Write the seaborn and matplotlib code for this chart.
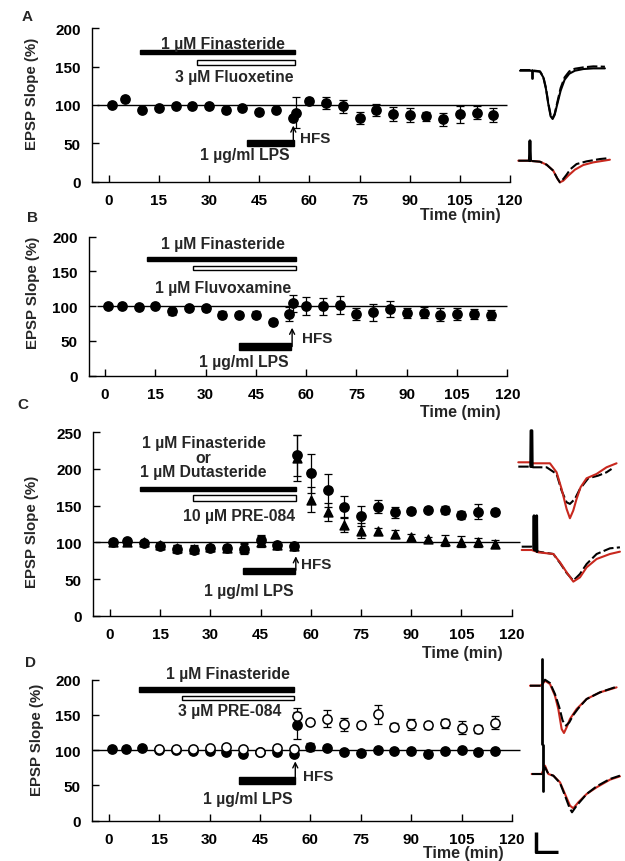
import matplotlib
matplotlib.use("Agg")
import matplotlib.pyplot as plt
import seaborn as sns

W, H = 625, 862

# ---------------- EPSP slope time courses (min, % of baseline) ----------------
times = [1, 5, 10, 15, 20, 25, 30, 35, 40, 45, 50, 55, 56,
         60, 65, 70, 75, 80, 85, 90, 95, 100, 105, 110, 115]

a_slope = [100, 108, 93.5, 96.5, 99, 98, 99, 93, 96.5, 91, 93.5, 83, 90,
           105.5, 102.5, 98, 83, 93.5, 88, 87, 85, 81, 88, 90, 87]
a_err = [2, 2, 3, 2, 2, 2, 2, 3, 2, 3, 2, 3, 20, 3, 8, 9, 8, 8, 9, 9, 6, 8, 11, 9, 9]

b_slope = [100, 101, 99, 101, 92.8, 97, 97, 87.5, 88, 87.5, 77, 89, 104,
           100, 100, 102, 88.5, 91, 96, 90.5, 90.5, 88, 88.5, 88.5, 87.5]
b_err = [2, 2, 2, 2, 5, 3, 4, 5, 3, 5, 4, 10, 12, 13, 12, 13, 9, 12, 12, 7, 8, 10, 9, 7, 7]

c_circle = [100, 101.9, 99.2, 94.7, 91, 90, 92.4, 91.9, 91, 102.6, 96.5, 94.7, 219,
            194, 170.7, 148.5, 136, 148.5, 140.8, 142.2, 144.5, 144, 137.2, 141.7, 140.8]
c_circle_err = [2, 2, 2, 3, 5, 5, 4, 4, 7, 7, 4, 3, 28, 27, 22, 14, 14, 9, 7, 4, 3, 5, 6, 10, 4]
c_tri = [100, 101, 100, 96, 92, 91, 93, 92, 92, 101, 97, 95, 215,
         158, 141.7, 123.6, 116, 115, 111.4, 107, 104.6, 102.4, 101, 100, 97.8]
c_tri_err = [2, 2, 2, 3, 5, 5, 4, 4, 7, 7, 4, 3, 32, 17, 12, 9, 10, 5, 5, 4, 3, 7, 7, 6, 5]

d_filled = [101, 101, 103.3, 100, 100, 99, 99, 97, 94, 98, 97, 95, 135,
            104.7, 103.3, 97, 96, 100, 98.6, 98.6, 94.8, 98.6, 100, 97, 98.6]
d_filled_err = [2, 2, 2, 2, 2, 2, 2, 2, 3, 2, 2, 3, 19, 6, 3, 2, 2, 2, 2, 2, 2, 2, 2, 2, 2]
d_open_times = [15, 20, 25, 30, 35, 40, 45, 50, 55, 56,
                60, 65, 70, 75, 80, 85, 90, 95, 100, 105, 110, 115]
d_open = [101, 101, 102, 103, 104.7, 102, 98, 103, 101, 149,
          139.8, 144.5, 136.5, 135, 150.7, 133, 136.5, 135, 138, 132, 130, 139]
d_open_err = [2, 2, 2, 2, 2, 2, 2, 2, 2, 11, 3, 12, 9, 3, 14, 6, 8, 5, 6, 9, 5, 9]

# ---------------- representative field EPSP traces (ms, mV) ----------------
a_trace_t = [0, 3, 6, 7, 7.8, 8.5, 9.2, 9.8, 10.4, 11.2, 12.2, 13.4, 14.8, 16.5, 19, 22, 25.5]
a_solid_v = [0, 0, -0.03, -0.2, -0.55, -1.0, -1.37, -1.45, -1.33, -1.0, -0.6, -0.27, -0.09, 0, 0.05, 0.07, 0.07]
a_dash_v = [0.02, 0.02, -0.02, -0.18, -0.52, -0.97, -1.33, -1.42, -1.3, -0.95, -0.52, -0.2, -0.02, 0.06, 0.1, 0.13, 0.12]
a_art_t = [3.5, 3.5]
a_art_v = [0.02, -0.23]

b_red_t = [0, 3, 6.5, 8.5, 10.5, 11.7, 12.5, 13.5, 15, 17, 19.5, 22.5, 27.5]
b_red_v = [0, 0, -0.03, -0.12, -0.3, -0.53, -0.65, -0.6, -0.45, -0.27, -0.13, -0.05, 0.03]
b_blk_t = [0, 3, 6.5, 8.5, 10.5, 11.7, 12.5, 13.5, 14.5, 15.7, 17.5, 20.5, 24.5, 26.5]
b_blk_v = [0, 0, -0.03, -0.12, -0.3, -0.53, -0.65, -0.55, -0.42, -0.25, -0.1, -0.02, 0.05, 0.07]
b_art_t = [3.3, 3.5, 3.7]
b_art_v = [0, 0.6, 0]

c1_red_t = [0, 3.5, 4.5, 9.5, 11.5, 13, 14.5, 15.5, 16.5, 17.5, 18.7, 20.5, 23.5, 26.5, 29.5]
c1_red_v = [0, 0, -0.03, -0.03, -0.3, -0.8, -1.4, -1.68, -1.45, -1.1, -0.75, -0.48, -0.35, -0.15, -0.03]
c1_blk_t = [0, 3.5, 4.5, 8.5, 11.5, 13, 14.5, 15.5, 17, 18.5, 21, 24, 26.5, 28]
c1_blk_v = [-0.13, -0.13, -0.15, -0.15, -0.35, -0.85, -1.2, -1.25, -1.1, -0.8, -0.48, -0.4, -0.3, -0.2]
c1_art_t = [3.7, 3.8, 4.1, 4.2]
c1_art_v = [-0.13, 0.95, 0.95, -0.13]

c2_red_t = [0, 3, 5, 9.5, 11.5, 13.5, 15.5, 17.5, 19.5, 22.5, 26.5, 29.5]
c2_red_v = [0, 0, -0.07, -0.12, -0.37, -0.67, -0.95, -0.82, -0.52, -0.27, -0.12, -0.05]
c2_blk_t = [0, 3, 5, 9.5, 11.5, 13.5, 15.5, 17.5, 19.5, 22.5, 26.5, 29.5]
c2_blk_v = [0.1, 0.1, -0.05, -0.12, -0.39, -0.69, -0.92, -0.72, -0.42, -0.12, 0.05, 0.08]
c2_art_t = [3.6, 3.7, 3.8, 4.4, 4.5, 4.6]
c2_art_v = [0.05, 1.03, 0.0, 0.0, 1.03, -0.05]

d1_red_t = [0, 3, 3.8, 4.5, 6, 7.5, 8.5, 9.5, 10.2, 11, 12, 14, 17, 21, 26]
d1_red_v = [0, 0, 0.05, 0.15, 0.05, -0.3, -0.7, -1.3, -1.42, -1.25, -1.0, -0.7, -0.4, -0.2, -0.05]
d1_blk_t = [0, 3, 3.8, 4.5, 6, 7.5, 8.8, 9.8, 10.8, 11.8, 13, 14.5, 17, 21, 26]
d1_blk_v = [0, 0, 0.08, 0.18, 0.08, -0.25, -0.65, -1.05, -1.2, -1.1, -0.88, -0.68, -0.4, -0.2, -0.03]
d1_art_t = [3.5, 3.5]
d1_art_v = [0.8, -1.75]

d2_red_t = [0, 3, 4, 5, 6.5, 8.5, 10, 11.5, 12.5, 14, 16.5, 19.5, 23.5, 26.5]
d2_red_v = [0, 0, 0.25, 0, -0.05, -0.25, -0.6, -0.95, -1.03, -0.85, -0.6, -0.4, -0.17, -0.07]
d2_blk_t = [0, 3, 4, 5, 6.5, 8.5, 10, 11.3, 12.1, 13.5, 16.5, 19.5, 23.5, 26.5]
d2_blk_v = [0, 0, 0.2, 0, -0.05, -0.27, -0.65, -1.0, -1.15, -0.95, -0.6, -0.37, -0.15, -0.05]
d2_art_t = [3.3, 3.3]
d2_art_v = [0.87, -0.5]

RED = "#c8281e"
PX_MS = 3.33   # px per ms in the trace insets
PX_MV = 33.3   # px per mV

sns.set_theme(style="ticks")
plt.rcParams["font.family"] = ["Liberation Sans", "DejaVu Sans"]
plt.rcParams["font.weight"] = "bold"
plt.rcParams["axes.labelweight"] = "bold"

fig = plt.figure(figsize=(W / 100, H / 100), dpi=100)


def px_axes(left, top, right, bottom):
    return fig.add_axes([left / W, 1 - bottom / H, (right - left) / W, (bottom - top) / H])


def fig_text(x, y, s, size, **kw):
    fig.text(x / W, 1 - y / H, s, ha="center", va="center", fontsize=size,
             fontweight="bold", **kw)


def setup_panel(ax, xmin, ymax, letter, letter_xy, ylab_xy, time_xy, line_span):
    ax.set_xlim(xmin, 120)
    ax.set_ylim(0, ymax)
    ax.set_xticks(range(0, 121, 15))
    ax.set_yticks(range(0, ymax + 1, 50))
    ax.tick_params(direction="in", length=5, width=1, labelsize=11, pad=8, colors="black")
    for lab in ax.get_xticklabels() + ax.get_yticklabels():
        lab.set_fontweight("bold")
    sns.despine(ax=ax)
    for s in ("left", "bottom"):
        ax.spines[s].set_linewidth(1)
        ax.spines[s].set_color("black")
    ax.set_xlabel("")
    ax.set_ylabel("")
    fig_text(*ylab_xy, "EPSP Slope (%)", 10.8, rotation=90)
    fig_text(*time_xy, "Time (min)", 11.5)
    fig_text(*letter_xy, letter, 11)
    ax.hlines(100, line_span[0], line_span[1], color="black", lw=1, zorder=1, clip_on=False)


def drug_bars(ax, bars):
    for start, end, level, h, filled in bars:
        ax.barh(level, end - start, left=start, height=h,
                color="black" if filled else "white", edgecolor="black", lw=1, zorder=3)


def hfs(ax, x, y0, y1, tx, ty):
    ax.annotate("", xy=(x, y1), xytext=(x, y0),
                arrowprops=dict(arrowstyle="->", lw=1, color="black", shrinkA=0, shrinkB=0,
                                mutation_scale=9))
    ax.text(tx, ty, "HFS", ha="center", va="center", fontsize=11, fontweight="bold")


def points(ax, t, y, e, marker="o", face="black", s=44, z=4):
    ax.errorbar(t, y, yerr=e, fmt="none", ecolor="black", elinewidth=0.9,
                capsize=3, capthick=0.9, zorder=z - 1)
    sns.scatterplot(x=t, y=y, ax=ax, marker=marker, s=s, color=face,
                    edgecolor="black", linewidth=1.1, legend=False, zorder=z)


def note(ax, x, y, s):
    ax.text(x, y, s, ha="center", va="center", fontsize=11.3, fontweight="bold")


# ---------------- panel A ----------------
axA = px_axes(92, 29.3, 510, 182.5)
setup_panel(axA, -5, 200, "A", (27, 17), (32, 94), (460, 216), (-3.6, 119))
points(axA, times, a_slope, a_err)
drug_bars(axA, [(9.5, 55.7, 168.7, 5.2, True), (26.3, 55.7, 155.6, 6.5, False),
                (41.5, 55.5, 50.4, 8, True)])
note(axA, 34.2, 180.4, "1 µM Finasteride")
note(axA, 37.5, 137, "3 µM Fluoxetine")
note(axA, 40.8, 34.8, "1 µg/ml LPS")
hfs(axA, 55.2, 50, 73, 61.8, 56.5)

# ---------------- panel B ----------------
axB = px_axes(89, 237.7, 507.3, 376.7)
setup_panel(axB, -4.8, 200, "B", (32, 218), (33, 293), (460, 413), (-2.5, 120))
points(axB, times, b_slope, b_err)
drug_bars(axB, [(12.6, 56.9, 167.6, 5.8, True), (26.3, 56.9, 155, 6.7, False),
                (40, 55.4, 41.7, 10.5, True)])
note(axB, 35.3, 189.5, "1 µM Finasteride")
note(axB, 35.1, 127, "1 µM Fluvoxamine")
note(axB, 41.5, 20, "1 µg/ml LPS")
hfs(axB, 55.8, 42, 69, 63.2, 53.7)

# ---------------- panel C ----------------
axC = px_axes(93, 433.3, 511.7, 616.7)
setup_panel(axC, -5.1, 250, "C", (23, 405), (32, 532), (462, 654), (-4.5, 122.5))
points(axC, times, c_tri, c_tri_err, marker="^", s=40, z=4)
points(axC, times, c_circle, c_circle_err, z=6)
drug_bars(axC, [(9, 55.7, 172.6, 6.3, True), (24.9, 55.7, 160.3, 7.3, False),
                (39.8, 55.2, 61.6, 8.2, True)])
note(axC, 27.9, 236, "1 µM Finasteride")
note(axC, 27.9, 215, "or")
note(axC, 27.7, 196, "1 µM Dutasteride")
note(axC, 38.6, 136.4, "10 µM PRE-084")
note(axC, 41.6, 35, "1 µg/ml LPS")
hfs(axC, 55.5, 62, 81, 61.7, 70.6)

# ---------------- panel D ----------------
axD = px_axes(92, 680.7, 512, 821.5)
setup_panel(axD, -5, 200, "D", (30, 663), (37, 740), (463, 854), (-4.8, 122.5))
points(axD, times, d_filled, d_filled_err, z=4)
points(axD, d_open_times, d_open, d_open_err, face="white", z=6)
drug_bars(axD, [(9.1, 55, 186, 7.6, True), (21.9, 55, 174, 5.7, False),
                (38.8, 55.3, 56.5, 9.5, True)])
note(axD, 35.5, 209, "1 µM Finasteride")
note(axD, 36, 156, "3 µM PRE-084")
note(axD, 41.4, 31.5, "1 µg/ml LPS")
hfs(axD, 55.5, 57, 84, 62.3, 63.6)


# ---------------- trace insets ----------------
def trace_inset(x0, y0, lines):
    ts = [t for tt, _, _, _ in lines for t in tt]
    vs = [v for _, vv, _, _ in lines for v in vv]
    tmin, tmax = min(ts) - 0.8, max(ts) + 0.8
    vmin, vmax = min(vs) - 0.08, max(vs) + 0.08
    ax = px_axes(x0 + tmin * PX_MS, y0 - vmax * PX_MV, x0 + tmax * PX_MS, y0 - vmin * PX_MV)
    for tt, vv, color, style in lines:
        ls = (0, (5, 1.6)) if style == "dash" else "-"
        lw = 2.0 if style == "art" else 1.5
        sns.lineplot(x=tt, y=vv, ax=ax, sort=False, estimator=None, color=color,
                     linestyle=ls, lw=lw, legend=False)
    ax.set_xlim(tmin, tmax)
    ax.set_ylim(vmin, vmax)
    ax.axis("off")
    return ax


trace_inset(520, 71.7, [(a_trace_t, a_solid_v, "black", "solid"),
                        (a_trace_t, a_dash_v, "black", "dash"),
                        (a_art_t, a_art_v, "black", "art")])
trace_inset(518.3, 161.7, [(b_red_t, b_red_v, RED, "solid"),
                           (b_blk_t, b_blk_v, "black", "dash"),
                           (b_art_t, b_art_v, "black", "art")])
trace_inset(518.3, 463.3, [(c1_blk_t, c1_blk_v, "black", "dash"),
                           (c1_red_t, c1_red_v, RED, "solid"),
                           (c1_art_t, c1_art_v, "black", "art")])
trace_inset(521.7, 551, [(c2_blk_t, c2_blk_v, "black", "dash"),
                         (c2_red_t, c2_red_v, RED, "solid"),
                         (c2_art_t, c2_art_v, "black", "art")])
trace_inset(530, 686.7, [(d1_red_t, d1_red_v, RED, "solid"),
                         (d1_blk_t, d1_blk_v, "black", "dash"),
                         (d1_art_t, d1_art_v, "black", "art")])
trace_inset(531.7, 775, [(d2_red_t, d2_red_v, RED, "solid"),
                         (d2_blk_t, d2_blk_v, "black", "dash"),
                         (d2_art_t, d2_art_v, "black", "art")])

# scale bar (ms, mV)
bar_ms, bar_mv = 6.6, 0.6
sb = px_axes(534, 831, 560, 855)
sb.plot([0, 0, bar_ms], [bar_mv, 0, 0], color="black", lw=2.5, solid_capstyle="butt")
sb.set_xlim(-0.6, 7.2)
sb.set_ylim(-0.06, 0.66)
sb.axis("off")

fig.savefig("out.png", dpi=100)
